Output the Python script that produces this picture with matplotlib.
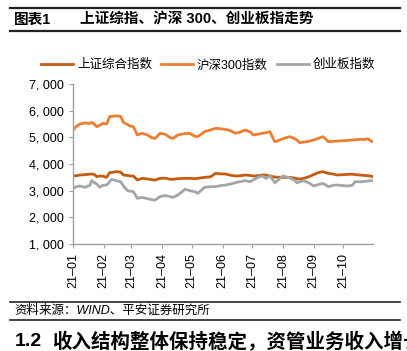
import matplotlib
matplotlib.use("Agg")
import matplotlib.pyplot as plt
import matplotlib.dates as mdates
from matplotlib.lines import Line2D
import pandas as pd

plt.rcParams["font.family"] = ["Liberation Sans", "Noto Sans CJK SC", "DejaVu Sans"]

# 日期（约每5天一个点）
dates = [
    "2021-01-01", "2021-01-04", "2021-01-08", "2021-01-13", "2021-01-18", "2021-01-20",
    "2021-01-23", "2021-01-25", "2021-01-28", "2021-01-31", "2021-02-04", "2021-02-07",
    "2021-02-09", "2021-02-13", "2021-02-18", "2021-02-21", "2021-02-25", "2021-02-28",
    "2021-03-03", "2021-03-07", "2021-03-12", "2021-03-17", "2021-03-22", "2021-03-25",
    "2021-03-30", "2021-04-04", "2021-04-09", "2021-04-12", "2021-04-17", "2021-04-24",
    "2021-04-29", "2021-05-04", "2021-05-07", "2021-05-14", "2021-05-20", "2021-05-25",
    "2021-05-30", "2021-06-04", "2021-06-09", "2021-06-14", "2021-06-19", "2021-06-24",
    "2021-06-29", "2021-07-02", "2021-07-07", "2021-07-11", "2021-07-15", "2021-07-19",
    "2021-07-22", "2021-07-24", "2021-07-29", "2021-08-01", "2021-08-08", "2021-08-13",
    "2021-08-15", "2021-08-18", "2021-08-22", "2021-08-27", "2021-09-01", "2021-09-06",
    "2021-09-10", "2021-09-13", "2021-09-16", "2021-09-21", "2021-09-25", "2021-10-01",
    "2021-10-05", "2021-10-10", "2021-10-13", "2021-10-18", "2021-10-23", "2021-10-26",
    "2021-10-28", "2021-10-31",
]

# 上证综合指数
sse = [
    3550, 3560, 3587, 3600, 3620, 3625, 3600, 3525, 3550, 3545, 3500, 3675,
    3680, 3712, 3700, 3587, 3570, 3550, 3550, 3400, 3462, 3440, 3410, 3400,
    3462, 3470, 3430, 3425, 3450, 3462, 3462, 3450, 3462, 3500, 3520, 3650,
    3630, 3625, 3580, 3550, 3560, 3587, 3570, 3550, 3560, 3587, 3580, 3550,
    3525, 3510, 3500, 3500, 3500, 3470, 3450, 3437, 3460, 3520, 3600, 3680,
    3712, 3680, 3650, 3620, 3587, 3600, 3610, 3620, 3600, 3587, 3570, 3560,
    3550, 3525,
]

# 沪深300指数
hs300 = [
    5275, 5400, 5500, 5540, 5520, 5560, 5480, 5400, 5450, 5525, 5500, 5775,
    5790, 5800, 5790, 5560, 5480, 5420, 5400, 5090, 5150, 5090, 4980, 4960,
    5150, 5120, 4990, 4960, 5090, 5140, 5150, 5040, 5025, 5212, 5280, 5337,
    5320, 5300, 5250, 5150, 5200, 5275, 5200, 5090, 5120, 5150, 5175, 5212,
    4960, 4837, 4900, 4950, 5025, 4950, 4900, 4800, 4820, 4850, 4900, 4960,
    5025, 4950, 4837, 4850, 4860, 4875, 4880, 4900, 4910, 4925, 4925, 4950,
    4875, 4837,
]

# 创业板指数
cyb = [
    3087, 3140, 3175, 3125, 3200, 3375, 3290, 3250, 3125, 3200, 3212, 3340,
    3425, 3380, 3337, 3175, 3000, 2980, 2962, 2712, 2750, 2700, 2660, 2650,
    2775, 2820, 2775, 2750, 2837, 3050, 3000, 2962, 2900, 3125, 3150, 3150,
    3190, 3212, 3250, 3300, 3340, 3375, 3337, 3400, 3500, 3550, 3462, 3550,
    3400, 3300, 3462, 3550, 3480, 3380, 3300, 3330, 3375, 3300, 3175, 3230,
    3275, 3220, 3150, 3200, 3212, 3190, 3175, 3200, 3337, 3330, 3350, 3360,
    3375, 3370,
]

x = pd.to_datetime(dates)

fig = plt.figure(figsize=(4.07, 3.51), dpi=100)
ax = fig.add_axes([73 / 407, 1 - 244 / 351, 300 / 407, 160 / 351])

ax.plot(x, sse, color="#C55A11", lw=2.0, label="上证综合指数")
ax.plot(x, hs300, color="#ED7D31", lw=2.0, label="沪深300指数")
ax.plot(x, cyb, color="#A5A5A5", lw=2.0, label="创业板指数")

ax.set_xlim(pd.Timestamp("2021-01-01"), pd.Timestamp("2021-10-31"))
ax.set_ylim(1000, 7000)
ax.set_yticks(range(1000, 8000, 1000))
ax.set_yticklabels([f"{v // 1000}, {v % 1000:03d}" for v in range(1000, 8000, 1000)])

ax.xaxis.set_major_locator(mdates.MonthLocator())
ax.xaxis.set_major_formatter(mdates.DateFormatter("%y–%m"))
plt.setp(ax.get_xticklabels(), rotation=90)

for s in ["top", "right"]:
    ax.spines[s].set_visible(False)
for s in ["left", "bottom"]:
    ax.spines[s].set_color("#A0A0A0")
    ax.spines[s].set_linewidth(1.0)
ax.tick_params(axis="both", colors="#A0A0A0", labelcolor="black", labelsize=9,
               length=3, direction="out")

ax.legend(loc="center", bbox_to_anchor=(208 / 407, 1 - 65 / 351), bbox_transform=fig.transFigure,
          ncol=3, frameon=False, fontsize=9, handlelength=2.6, handletextpad=0.3,
          columnspacing=0.7)

# 标题和分隔线
for yy, lw in [(8, 1.6), (31, 1.6), (302, 1.2), (320, 1.2)]:
    fig.add_artist(Line2D([10 / 407, 400 / 407], [1 - yy / 351, 1 - yy / 351],
                          color="#222222", lw=lw, transform=fig.transFigure))

fig.text(14 / 407, 1 - 20 / 351, "图表1", fontsize=10.5, fontweight="bold", va="center")
fig.text(80 / 407, 1 - 20 / 351, "上证综指、沪深 300、创业板指走势", fontsize=10.5,
         fontweight="bold", va="center")
fig.text(14 / 407, 1 - 311 / 351, "资料来源：WIND、平安证券研究所", fontsize=9,
         style="italic", va="center")
# 下一节标题（原图在右侧被截断）
fig.text(15 / 407, 1 - 342 / 351, "1.2", fontsize=14, fontweight="bold", va="center")
fig.text(52 / 407, 1 - 342 / 351, "收入结构整体保持稳定，资管业务收入增长", fontsize=14,
         fontweight="bold", va="center")

fig.savefig("out.png", dpi=100)
